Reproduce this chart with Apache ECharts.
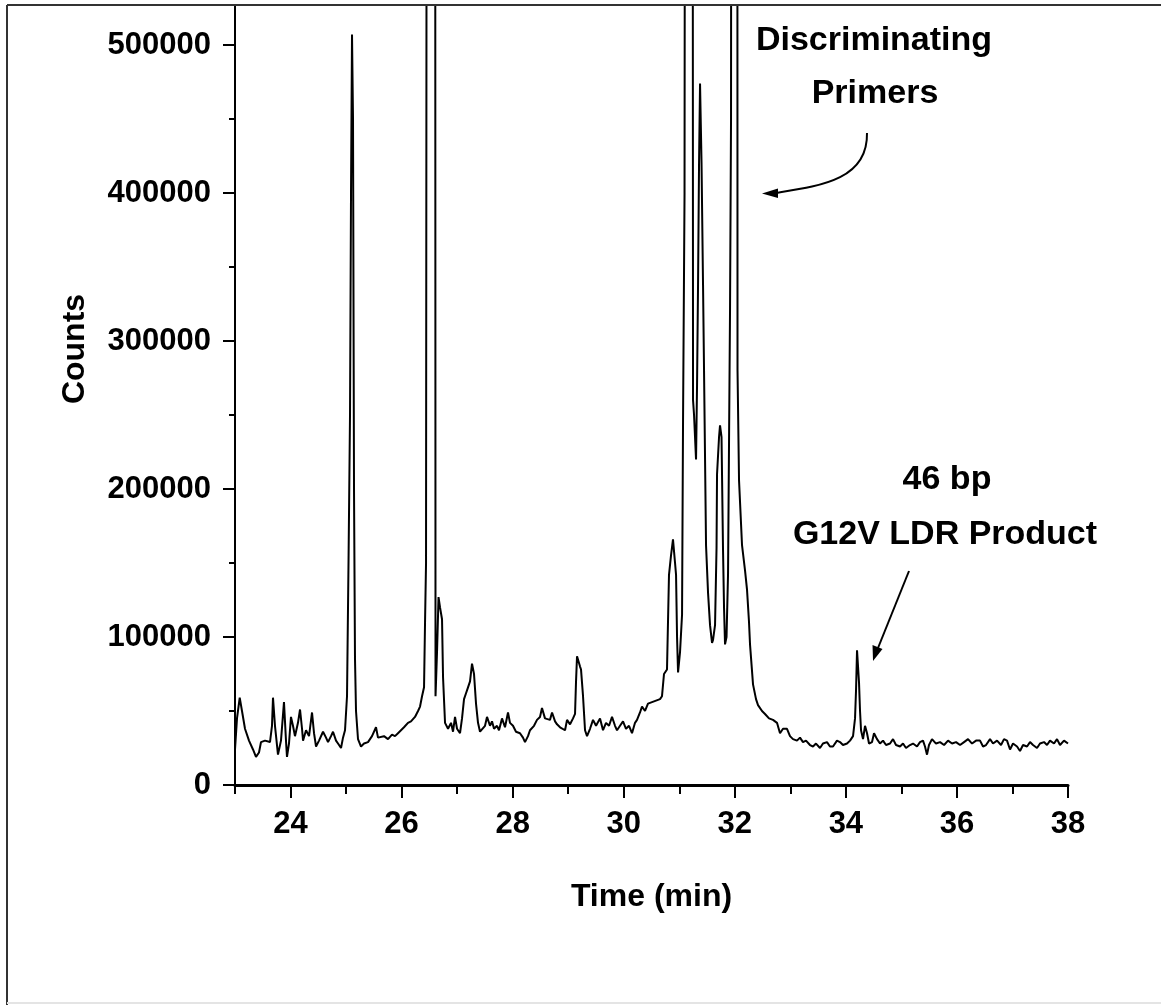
<!DOCTYPE html>
<html>
<head>
<meta charset="utf-8">
<title>Electropherogram</title>
<script src="https://cdn.jsdelivr.net/npm/echarts@6/dist/echarts.min.js"></script>
<style>
  html, body { margin: 0; padding: 0; background: #fff; }
  #chart { width: 1161px; height: 1005px; }
</style>
</head>
<body>
<div id="chart"></div>
<script>
// Migration time (min) of each trace sample
const times = [
  23.000, 23.036, 23.085, 23.126, 23.180, 23.252, 23.324, 23.378, 23.432, 23.468,
  23.540, 23.630, 23.666, 23.684, 23.720, 23.774, 23.828, 23.882, 23.918, 23.936,
  23.972, 24.008, 24.044, 24.080, 24.134, 24.171, 24.207, 24.225, 24.279, 24.333,
  24.387, 24.423, 24.459, 24.513, 24.585, 24.639, 24.675, 24.729, 24.765, 24.819,
  24.855, 24.909, 24.945, 24.981, 25.017, 25.044, 25.071, 25.089, 25.107, 25.125,
  25.143, 25.161, 25.179, 25.215, 25.269, 25.323, 25.395, 25.467, 25.539, 25.575,
  25.611, 25.683, 25.755, 25.827, 25.881, 25.935, 25.989, 26.043, 26.115, 26.169,
  26.241, 26.296, 26.332, 26.368, 26.404, 26.422, 26.440, 26.458, 26.530, 26.602,
  26.611, 26.638, 26.665, 26.692, 26.728, 26.746, 26.782, 26.836, 26.890, 26.926,
  26.962, 26.998, 27.052, 27.088, 27.124, 27.160, 27.196, 27.232, 27.268, 27.304,
  27.340, 27.376, 27.412, 27.448, 27.502, 27.538, 27.592, 27.628, 27.664, 27.718,
  27.754, 27.808, 27.862, 27.916, 27.952, 28.006, 28.060, 28.132, 28.186, 28.222,
  28.276, 28.312, 28.384, 28.438, 28.492, 28.528, 28.582, 28.618, 28.672, 28.709,
  28.763, 28.799, 28.853, 28.889, 28.943, 28.979, 29.033, 29.087, 29.123, 29.141,
  29.159, 29.186, 29.213, 29.231, 29.267, 29.303, 29.339, 29.393, 29.447, 29.501,
  29.573, 29.627, 29.681, 29.735, 29.789, 29.843, 29.879, 29.933, 29.987, 30.041,
  30.095, 30.149, 30.203, 30.239, 30.293, 30.329, 30.383, 30.437, 30.509, 30.581,
  30.653, 30.689, 30.725, 30.779, 30.815, 30.851, 30.887, 30.924, 30.942, 30.960,
  30.978, 31.014, 31.050, 31.068, 31.095, 31.122, 31.176, 31.230, 31.248, 31.266,
  31.302, 31.320, 31.338, 31.356, 31.374, 31.401, 31.428, 31.446, 31.482, 31.518,
  31.554, 31.590, 31.608, 31.644, 31.671, 31.680, 31.716, 31.734, 31.761, 31.788,
  31.806, 31.824, 31.851, 31.878, 31.914, 31.932, 31.950, 31.995, 32.040, 32.049,
  32.076, 32.130, 32.184, 32.220, 32.256, 32.274, 32.328, 32.382, 32.418, 32.490,
  32.544, 32.616, 32.688, 32.760, 32.814, 32.868, 32.940, 32.994, 33.048, 33.120,
  33.174, 33.228, 33.282, 33.354, 33.408, 33.462, 33.534, 33.588, 33.660, 33.714,
  33.768, 33.840, 33.894, 33.948, 34.021, 34.075, 34.129, 34.165, 34.183, 34.201,
  34.219, 34.237, 34.255, 34.273, 34.309, 34.345, 34.381, 34.417, 34.471, 34.507,
  34.561, 34.615, 34.669, 34.723, 34.795, 34.849, 34.903, 34.975, 35.029, 35.083,
  35.155, 35.209, 35.281, 35.335, 35.389, 35.425, 35.461, 35.497, 35.551, 35.623,
  35.696, 35.768, 35.840, 35.912, 35.984, 36.056, 36.128, 36.200, 36.272, 36.344,
  36.416, 36.470, 36.524, 36.596, 36.650, 36.722, 36.794, 36.848, 36.902, 36.956,
  37.010, 37.082, 37.136, 37.190, 37.262, 37.316, 37.370, 37.442, 37.496, 37.568,
  37.622, 37.676, 37.748, 37.802, 37.856, 37.928, 38.000
];

// Detector counts at each sample (the three primer peaks run far off scale)
const counts = [
  24000, 45000, 59000, 50000, 38000, 30000, 24000, 19000, 22000, 29000,
  30000, 29000, 40000, 59000, 40000, 20500, 30000, 56000, 30000, 19000,
  28000, 46000, 40000, 33000, 42000, 51000, 38000, 30000, 37000, 33000,
  49000, 35000, 26000, 30000, 36000, 32000, 29000, 33000, 36000, 30000,
  28000, 25000, 32000, 37000, 60000, 150000, 250000, 400000, 507000, 450000,
  200000, 85000, 50000, 31000, 26000, 28000, 29000, 33000, 39000, 32000,
  31000, 33000, 31000, 34000, 33000, 35000, 37000, 39000, 42000, 43000,
  46000, 50000, 53000, 60000, 66000, 110000, 150000, 1000000, 1500000, 1000000,
  60000, 90000, 127000, 120000, 112000, 73000, 42000, 38000, 42000, 36000,
  46000, 38000, 35000, 45000, 58000, 62000, 66000, 70000, 82000, 75000,
  55000, 42000, 36000, 35000, 40000, 46000, 40000, 43000, 38000, 40000,
  37000, 45000, 39000, 49000, 42000, 40000, 36000, 35000, 32000, 29000,
  33000, 37000, 40000, 44000, 46000, 52000, 45000, 46000, 44000, 49000,
  43000, 41000, 39000, 40000, 37000, 44000, 41000, 45000, 48000, 70000,
  87000, 88000, 80000, 78000, 60000, 37000, 33000, 38000, 44000, 40000,
  45000, 37000, 42000, 40000, 46000, 40000, 37000, 40000, 43000, 38000,
  40000, 35000, 42000, 44000, 49000, 53000, 50000, 55000, 56000, 57000,
  58000, 60000, 75000, 78000, 142000, 155000, 166000, 150000, 142000, 100000,
  76000, 90000, 115000, 247000, 400000, 1500000, 2000000, 1500000, 260000, 250000,
  220000, 270000, 338000, 420000, 474000, 420000, 338000, 280000, 162000, 130000,
  108000, 96000, 98000, 108000, 160000, 210000, 235000, 243000, 235000, 159000,
  120000, 95000, 100000, 142000, 321000, 450000, 1500000, 2000000, 1500000, 280000,
  206000, 162000, 145000, 132000, 110000, 95000, 68000, 58000, 54000, 50000,
  48000, 45000, 44000, 42000, 35000, 38000, 38000, 33000, 31000, 30000,
  32000, 29000, 30000, 27000, 26000, 28000, 25000, 28000, 29000, 26000,
  26000, 30000, 29000, 27000, 28000, 30000, 33000, 45000, 64000, 91000,
  80000, 69000, 50000, 37000, 31000, 40000, 35000, 28000, 29000, 35000,
  31000, 28000, 30000, 27000, 28000, 31000, 27000, 26000, 28000, 25000,
  27000, 28000, 26000, 29000, 30000, 26000, 20500, 27000, 31000, 28000,
  29000, 27000, 30000, 28000, 29000, 27000, 29000, 31000, 28000, 30000,
  30000, 26000, 27000, 31000, 28000, 30000, 27000, 31000, 30000, 24000,
  28000, 26000, 23000, 27000, 26000, 29000, 27000, 25000, 28000, 29000,
  27000, 30000, 28000, 31000, 27000, 30000, 28000
];

// Axis ticks and labels
const xMajorTicks = [24, 26, 28, 30, 32, 34, 36, 38];
const xMinorTicks = [23, 25, 27, 29, 31, 33, 35, 37];
const yMajorTicks = [0, 100000, 200000, 300000, 400000, 500000];
const yMinorTicks = [50000, 150000, 250000, 350000, 450000];
const xAxisTitle = 'Time (min)';
const yAxisTitle = 'Counts';
const primerNote = ['Discriminating', 'Primers'];
const productNote = ['46 bp', 'G12V LDR Product'];

const sansFont = "'Liberation Sans', Arial, Helvetica, sans-serif";

const chart = echarts.init(document.getElementById('chart'), null, { renderer: 'canvas' });

const trace = times.map((t, i) => [t, counts[i]]);
const plain = v => String(v);

const option = {
  animation: false,
  backgroundColor: '#ffffff',
  grid: { left: 235, right: 93, top: 5, bottom: 220, containLabel: false },
  xAxis: [
    {
      type: 'value', min: 23, max: 38, position: 'bottom',
      axisLine: { show: true, onZero: false, lineStyle: { color: '#000', width: 3 } },
      axisTick: { show: true, customValues: xMajorTicks, length: 13, inside: false,
                  lineStyle: { color: '#000', width: 2 } },
      axisLabel: { show: true, customValues: xMajorTicks, margin: 24, color: '#000',
                   formatter: plain,
                   fontFamily: sansFont, fontWeight: 'bold', fontSize: 31 },
      splitLine: { show: false },
      name: xAxisTitle, nameLocation: 'middle', nameGap: 96,
      nameTextStyle: { color: '#000', fontFamily: sansFont, fontWeight: 'bold', fontSize: 32 }
    },
    {
      type: 'value', min: 23, max: 38, position: 'bottom', gridIndex: 0,
      axisLine: { show: false, onZero: false },
      axisTick: { show: true, customValues: xMinorTicks, length: 9,
                  lineStyle: { color: '#000', width: 2 } },
      axisLabel: { show: false },
      splitLine: { show: false }
    }
  ],
  yAxis: [
    {
      type: 'value', min: 0, max: 527000, position: 'left',
      axisLine: { show: true, onZero: false, lineStyle: { color: '#000', width: 2 } },
      axisTick: { show: true, customValues: yMajorTicks, length: 12,
                  lineStyle: { color: '#000', width: 2 } },
      axisLabel: { show: true, customValues: yMajorTicks, margin: 24, color: '#000',
                   formatter: plain,
                   fontFamily: sansFont, fontWeight: 'bold', fontSize: 31 },
      splitLine: { show: false }
    },
    {
      type: 'value', min: 0, max: 527000, position: 'left', gridIndex: 0,
      axisLine: { show: false, onZero: false },
      axisTick: { show: true, customValues: yMinorTicks, length: 6,
                  lineStyle: { color: '#000', width: 2 } },
      axisLabel: { show: false },
      splitLine: { show: false }
    }
  ],
  series: [
    {
      type: 'line',
      xAxisIndex: 0, yAxisIndex: 0,
      data: trace,
      showSymbol: false,
      clip: true,
      smooth: false,
      lineStyle: { color: '#000', width: 2 },
      z: 3
    }
  ],
  graphic: [
    // page frame
    { type: 'line', shape: { x1: 7, y1: 5, x2: 1161, y2: 5 },
      style: { stroke: '#333', lineWidth: 2 }, z: 10 },
    { type: 'line', shape: { x1: 7, y1: 5, x2: 7, y2: 1005 },
      style: { stroke: '#333', lineWidth: 2 }, z: 10 },
    { type: 'line', shape: { x1: 7, y1: 1003, x2: 1161, y2: 1003 },
      style: { stroke: '#e4e4e4', lineWidth: 2 }, z: 10 },

    // y axis title
    { type: 'text', x: 75, y: 349, rotation: Math.PI / 2,
      style: { text: yAxisTitle, fill: '#000', font: "bold 32px " + sansFont,
               textAlign: 'center', textVerticalAlign: 'middle' } },

    // primer annotation
    { type: 'text', x: 874, y: 41,
      style: { text: primerNote[0], fill: '#000', font: "bold 34px " + sansFont,
               textAlign: 'center', textVerticalAlign: 'middle' } },
    { type: 'text', x: 875, y: 94,
      style: { text: primerNote[1], fill: '#000', font: "bold 34px " + sansFont,
               textAlign: 'center', textVerticalAlign: 'middle' } },
    { type: 'bezierCurve',
      shape: { x1: 867, y1: 133, x2: 776, y2: 193, cpx1: 868, cpy1: 180, cpx2: 820, cpy2: 186 },
      style: { stroke: '#000', lineWidth: 2, fill: null } },
    { type: 'polygon', shape: { points: [[762, 193.5], [778, 188.5], [778, 198]] },
      style: { fill: '#000' } },

    // product annotation
    { type: 'text', x: 947, y: 480,
      style: { text: productNote[0], fill: '#000', font: "bold 34px " + sansFont,
               textAlign: 'center', textVerticalAlign: 'middle' } },
    { type: 'text', x: 945, y: 535,
      style: { text: productNote[1], fill: '#000', font: "bold 34px " + sansFont,
               textAlign: 'center', textVerticalAlign: 'middle' } },
    { type: 'line', shape: { x1: 909, y1: 571, x2: 878, y2: 648 },
      style: { stroke: '#000', lineWidth: 2 } },
    { type: 'polygon', shape: { points: [[873, 661], [872.5, 645], [882.5, 649]] },
      style: { fill: '#000' } }
  ]
};

chart.setOption(option);
</script>
</body>
</html>
